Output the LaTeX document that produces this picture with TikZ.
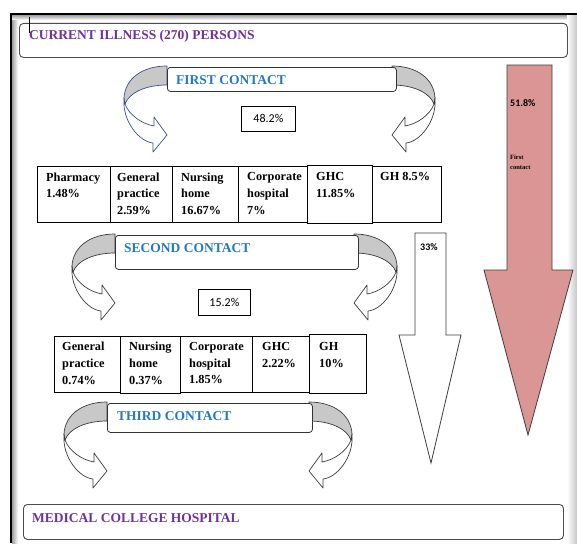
\documentclass[tikz,border=0pt]{standalone}
\usepackage{fontspec}
\setmainfont{Liberation Serif}
\newfontfamily\calib{Carlito}
\definecolor{ttlpurple}{RGB}{112,48,160}
\definecolor{ctblue}{RGB}{35,120,200}
\definecolor{ribgray}{RGB}{200,200,200}
\definecolor{redarrow}{RGB}{217,150,148}
\definecolor{navyline}{RGB}{60,80,140}
\definecolor{darkline}{RGB}{60,60,60}
\tikzset{
 bigbox/.style={draw=gray!60!black, line width=0.9pt, rounded corners=4pt, fill=white, inner sep=0pt, anchor=north west},
 ctbox/.style={draw=gray!40!black, line width=0.8pt, rounded corners=3pt, fill=white, inner sep=0pt, anchor=north west},
 cell/.style={draw=black, line width=0.8pt, fill=white, inner sep=0pt, anchor=north west},
 celltext/.style={font=\bfseries\fontsize{12.3}{16.7}\selectfont, align=left, anchor=north west, inner sep=0pt},
 ttl/.style={font=\bfseries\fontsize{13.5}{16}\selectfont, text=ttlpurple, anchor=base west, inner sep=0pt},
 cttl/.style={font=\bfseries\fontsize{13.5}{16}\selectfont, text=ctblue, anchor=base west, inner sep=0pt},
 pctbox/.style={draw=black, line width=0.8pt, fill=white, inner sep=0pt, anchor=north west},
 pcttext/.style={font=\calib\fontsize{12}{14}\selectfont, inner sep=0pt},
 arrowtext/.style={font=\calib\bfseries\fontsize{10}{12}\selectfont, anchor=west, inner sep=0pt},
 tinytext/.style={font=\bfseries\fontsize{6.5}{8}\selectfont, anchor=west, inner sep=0pt},
 ribline/.style={line width=0.7pt, line join=round},
 bigarrow/.style={draw=darkline, line width=0.8pt},
}
\newcommand{\contactribbon}[4]{%
\begin{scope}[shift={(#1,#2)},#3]
 \filldraw[ribline, draw=#4, fill=ribgray] (0,-1) .. controls (-25,-1) and (-42,12) .. (-43,31) -- (-42,37) .. controls (-38,26) and (-22,18) .. (0,18) -- cycle;
 \filldraw[ribline, draw=#4, fill=white] (-43,31) .. controls (-45,55) and (-27,75) .. (-14,76) -- (-14,85) -- (0,68) -- (-13,50) -- (-13,59) .. controls (-25,57) and (-38,48) .. (-42,37) -- cycle;
\end{scope}}
\begin{document}
\begin{tikzpicture}[x=1pt,y=-1pt]
\useasboundingbox (0,0) rectangle (577,543);
\fill[white] (0,0) rectangle (577,543);
% frame
\shade[left color=gray!75, right color=white] (12,15) rectangle (18,543);
\shade[top color=gray!75, bottom color=white] (12,15) rectangle (570,20);
\shade[left color=white, right color=gray!45] (567,15) rectangle (577,543);
\draw[line width=2pt] (11,543) -- (11,14.3) -- (577,14.3);

% title boxes
\node[bigbox, minimum width=548pt, minimum height=34pt] (top) at (19,23) {};
\node[ttl] (toptext) at (29,39.5) {CURRENT ILLNESS (270) PERSONS};
\draw[line width=0.6pt] (29.5,17) -- (29.5,33);
\node[bigbox, minimum width=540pt, minimum height=35pt] (bottom) at (23,504) {};
\node[ttl] (bottomtext) at (32,522.5) {MEDICAL COLLEGE HOSPITAL};

% big arrows
\filldraw[bigarrow, fill=redarrow] (507,65) -- (552,65) -- (552,270) -- (573,270) -- (528,435) -- (484,270) -- (507,270) -- cycle;
\node[arrowtext] (r1) at (510,103) {51.8\%};
\node[tinytext] (r2) at (510,157) {First};
\node[tinytext] (r3) at (510,168) {contact};
\filldraw[bigarrow, fill=white] (415,233) -- (446,233) -- (446,335) -- (461,335) -- (431,463) -- (399,335) -- (415,335) -- cycle;
\node[arrowtext] (w1) at (420,247) {33\%};

% ribbons
\contactribbon{167}{67}{}{navyline}
\contactribbon{392}{67}{xscale=-1}{darkline}
\contactribbon{115}{235}{}{darkline}
\contactribbon{354}{235}{xscale=-1}{darkline}
\contactribbon{107}{403}{}{darkline}
\contactribbon{309}{403}{xscale=-1}{darkline}

% contact boxes
\node[ctbox, minimum width=229pt, minimum height=24pt] (fc) at (167,67) {};
\node[cttl] (fct) at (176,84.5) {FIRST CONTACT};
\node[ctbox, minimum width=243pt, minimum height=34pt] (sc) at (115,235) {};
\node[cttl] (sct) at (124,252.5) {SECOND CONTACT};
\node[ctbox, minimum width=205pt, minimum height=29pt] (tc) at (107,403) {};
\node[cttl] (tct) at (117,420.5) {THIRD CONTACT};

% percent boxes
\node[pctbox, minimum width=54pt, minimum height=25pt] (pc1) at (241,106) {};
\node[pcttext] at (pc1.center) {48.2\%};
\node[pctbox, minimum width=52pt, minimum height=26pt] (pc2) at (198,289) {};
\node[pcttext] at (pc2.center) {15.2\%};

% first row
\node[cell, minimum width=73pt, minimum height=56pt] (p1) at (37,166) {};
\node[cell, minimum width=62pt, minimum height=56pt] (p2) at (110,166) {};
\node[cell, minimum width=66pt, minimum height=56pt] (p3) at (172,166) {};
\node[cell, minimum width=69pt, minimum height=56pt] (p4) at (238,166) {};
\node[cell, minimum width=65pt, minimum height=58pt] (p5) at (307,165) {};
\node[cell, minimum width=69pt, minimum height=56pt] (p6) at (372,166) {};
\node[celltext] at (46,172.5) {Pharmacy\\1.48\%};
\node[celltext] at (117,172.5) {General\\practice\\2.59\%};
\node[celltext] at (181,172.5) {Nursing\\home\\16.67\%};
\node[celltext] at (247,172.5) {Corporate\\hospital\\7\%};
\node[celltext] at (316,172.5) {GHC\\11.85\%};
\node[celltext] at (380,172.5) {GH 8.5\%};

% second row
\node[cell, minimum width=66pt, minimum height=56pt] (q1) at (54,336) {};
\node[cell, minimum width=60pt, minimum height=57pt] (q2) at (120,336) {};
\node[cell, minimum width=72pt, minimum height=56pt] (q3) at (180,336) {};
\node[cell, minimum width=57pt, minimum height=56pt] (q4) at (252,336) {};
\node[cell, minimum width=57pt, minimum height=59pt] (q5) at (309,334) {};
\node[celltext] at (62,342) {General\\practice\\0.74\%};
\node[celltext] at (129,342) {Nursing\\home\\0.37\%};
\node[celltext] at (189,342) {Corporate\\hospital\\1.85\%};
\node[celltext] at (262,342) {GHC\\2.22\%};
\node[celltext] at (319,342) {GH\\10\%};
\end{tikzpicture}
\end{document}
